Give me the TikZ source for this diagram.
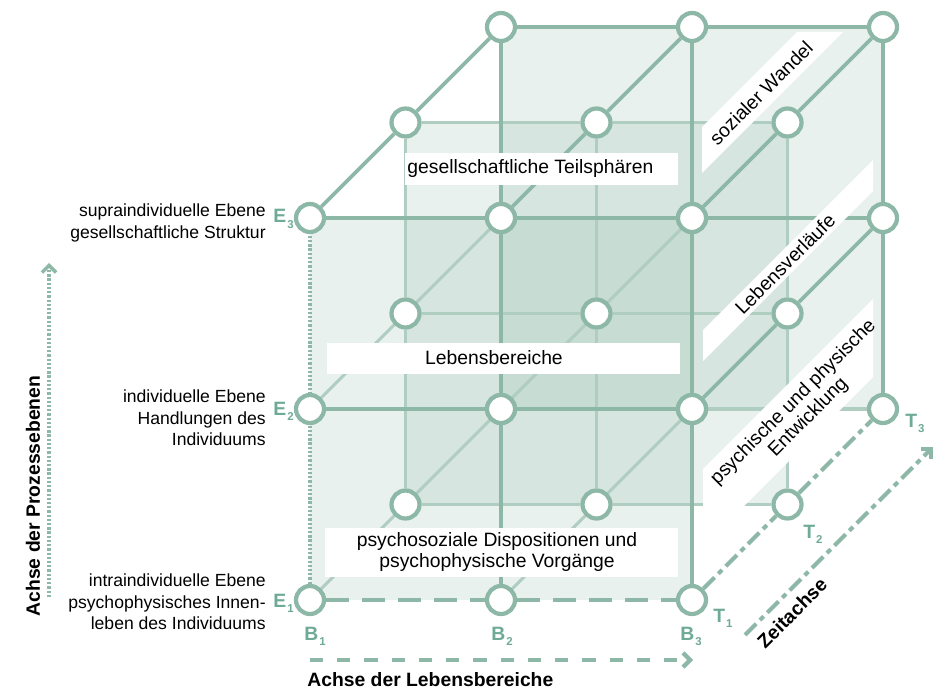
\documentclass[tikz,border=0pt]{standalone}
\usepackage{fontspec}
\setmainfont{Liberation Sans}
\usetikzlibrary{arrows.meta}
\definecolor{cubegreen}{RGB}{141,183,166}
\definecolor{cubelight}{RGB}{176,205,193}
\definecolor{labelgreen}{RGB}{110,170,150}
\pgfdeclarelayer{fills}
\pgfdeclarelayer{lines}
\pgfdeclarelayer{bands}
\pgfsetlayers{fills,lines,bands,main}
\newcommand{\idx}[2]{#1\hspace{0.6pt}\raisebox{-3pt}{\fontsize{6.5}{7}\selectfont #2}}

\begin{document}
\begin{tikzpicture}[x=0.02cm, y=-0.02cm, font=\fontsize{11}{12}\selectfont,
  knot/.style={circle, draw=cubegreen, fill=white, line width=2.4pt, minimum size=0.56cm, inner sep=0pt},
  strong/.style={draw=cubegreen, line width=2.1pt},
  faint/.style={draw=cubelight, line width=1.8pt},
  lbl/.style={text=labelgreen, inner sep=0pt, font=\fontsize{11}{12}\selectfont\bfseries},
  side/.style={align=right, anchor=east, font=\fontsize{10}{12.2}\selectfont, inner sep=0pt},
  axistitle/.style={font=\fontsize{11}{13}\selectfont\bfseries, inner sep=0pt}]

\useasboundingbox (0,0) rectangle (943,689);

% knots: B to the right, E upwards, T into the depth
\foreach \i in {0,1,2}
  \foreach \j in {0,1,2}
    \foreach \k in {0,1,2}
      \node[knot] (n\i\j\k) at ({310+191*\i+95.5*\k},{600-191*\j-95.5*\k}) {};

% translucent layers T1, T2, T3
\begin{pgfonlayer}{fills}
\foreach \k in {2,1,0}
  \fill[cubegreen, opacity=0.2] (n00\k.center) rectangle (n22\k.center);
\end{pgfonlayer}

\begin{pgfonlayer}{lines}
% inner edges
\foreach \j in {0,1,2} \draw[faint] (n0\j1) -- (n1\j1) -- (n2\j1);
\foreach \i in {0,1,2} \draw[faint] (n\i01) -- (n\i11) -- (n\i21);
\draw[faint] (n102) -- (n202);
\foreach \i/\j in {0/0,1/0,0/1,1/1} \draw[faint] (n\i\j0) -- (n\i\j1) -- (n\i\j2);
% outer edges
\foreach \j in {1,2} \draw[strong] (n0\j0) -- (n1\j0) -- (n2\j0);
\foreach \i in {1,2} \draw[strong] (n\i00) -- (n\i10) -- (n\i20);
\foreach \j in {1,2} \draw[strong] (n0\j2) -- (n1\j2) -- (n2\j2);
\foreach \i in {0,1,2} \draw[strong] (n\i02) -- (n\i12) -- (n\i22);
\foreach \i/\j in {0/2,1/2,2/2,2/1} \draw[strong] (n\i\j0) -- (n\i\j1) -- (n\i\j2);
% axis edges
\draw[cubegreen, line width=2pt, dash pattern=on 1.3pt off 1.1pt] (n000) -- (n020);
\draw[cubegreen, line width=2.5pt, dash pattern=on 13pt off 7.5pt] (n000) -- (n100) -- (n200);
\draw[cubegreen, line width=2.3pt, dash pattern=on 9pt off 3pt on 3pt off 3pt] (n200) -- (n201) -- (n202);
\end{pgfonlayer}

% white bands
\begin{pgfonlayer}{bands}
\fill[white] (405,153) rectangle (678,185);
\fill[white] (327,343) rectangle (680,374);
\fill[white] (325,528) rectangle (678,577);
\fill[white] (702,173) -- (702,127) -- (797,32) -- (843,32) -- cycle;
\fill[white] (703,361) -- (703,330) -- (873,160) -- (873,191) -- cycle;
\fill[white] (703,547) -- (703,469) -- (873,299) -- (873,377) -- cycle;
\end{pgfonlayer}

% texts in the cube
\node[anchor=west, inner sep=0pt] (teilsph) at (407,169) {gesellschaftliche Teilsphären};
\node[inner sep=0pt] (lebensb) at (494,358) {Lebensbereiche};
\node[align=center, inner sep=0pt] (psychoso) at (497,552) {psychosoziale Dispositionen und\\psychophysische Vorgänge};
\node[rotate=45, inner sep=0pt] (wandel) at (761,93) {sozialer Wandel};
\node[rotate=45, inner sep=0pt] (verlauf) at (785,264) {Lebensverläufe};
\node[rotate=45, align=center, inner sep=0pt] (entw) at (801,410) {psychische und physische\\Entwicklung};

% levels
\node[side] (supra) at (266,223) {supraindividuelle Ebene\\gesellschaftliche Struktur};
\node[side] (indiv) at (266,418) {individuelle Ebene\\Handlungen des\\Individuums};
\node[side] (intra) at (266,602) {intraindividuelle Ebene\\psychophysisches Innen-\\leben des Individuums};

% index labels
\node[lbl, anchor=base west] (e3) at (273,223) {\idx{E}{3}};
\node[lbl, anchor=base west] (e2) at (273,415) {\idx{E}{2}};
\node[lbl, anchor=base west] (e1) at (273,607) {\idx{E}{1}};
\node[lbl, anchor=base west] (b1) at (304,640) {\idx{B}{1}};
\node[lbl, anchor=base west] (b2) at (491,640) {\idx{B}{2}};
\node[lbl, anchor=base west] (b3) at (680,640) {\idx{B}{3}};
\node[lbl, anchor=base west] (t1) at (713,622) {\idx{T}{1}};
\node[lbl, anchor=base west] (t2) at (803,538) {\idx{T}{2}};
\node[lbl, anchor=base west] (t3) at (905,427) {\idx{T}{3}};

% axes
\coordinate (eaxis0) at (49,597);
\coordinate (eaxis1) at (49,263);
\coordinate (baxis0) at (310,660);
\coordinate (baxis1) at (693,660);
\coordinate (taxis0) at (745,635);
\coordinate (taxis1) at (933,447);
\draw[cubegreen, line width=2pt, dash pattern=on 1.3pt off 1.1pt, -{Straight Barb[length=4pt,width=8pt]}] (eaxis0) -- (eaxis1);
\draw[cubegreen, line width=2.4pt, dash pattern=on 7.5pt off 8pt, -{Straight Barb[length=4pt,width=8pt]}] (baxis0) -- (baxis1);
\draw[cubegreen, line width=2.3pt, dash pattern=on 9pt off 3pt on 3pt off 3pt, -{Straight Barb[length=4pt,width=8pt]}] (taxis0) -- (taxis1);
\node[axistitle, rotate=90] (etitle) at (33,496) {Achse der Prozessebenen};
\node[axistitle, anchor=west] (btitle) at (307,680) {Achse der Lebensbereiche};
\node[axistitle, rotate=45] (ttitle) at (792,613) {Zeitachse};
\end{tikzpicture}
\end{document}
